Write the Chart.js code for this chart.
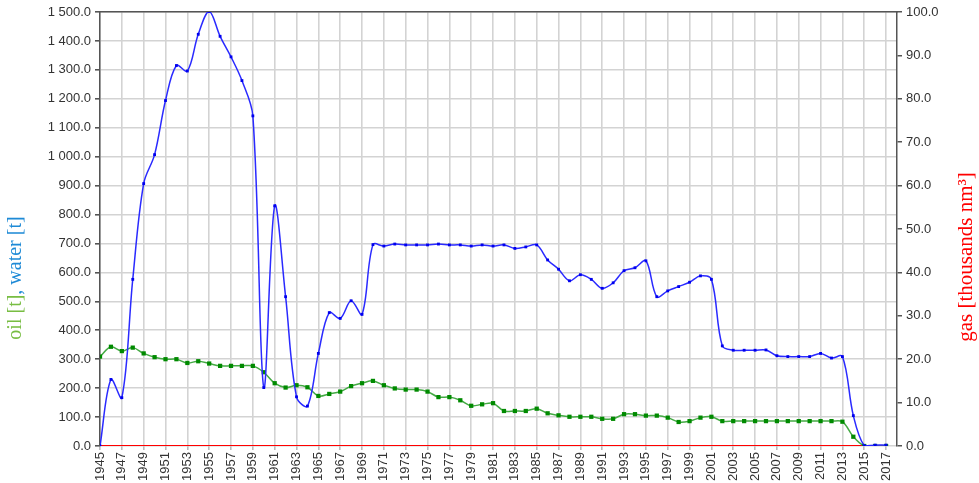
<!DOCTYPE html>
<html>
<head>
<meta charset="utf-8">
<script src="https://cdn.jsdelivr.net/npm/chart.js@4.4.0/dist/chart.umd.min.js"></script>
<style>
  html, body { margin: 0; padding: 0; background: #fff; }
  #wrap { width: 979px; height: 483px; position: relative; }
</style>
</head>
<body>
<div id="wrap"><canvas id="chart" width="979" height="483"></canvas></div>
<script>
// years 1945..2017
const years = [
  1945, 1946, 1947, 1948, 1949, 1950, 1951, 1952, 1953, 1954,
  1955, 1956, 1957, 1958, 1959, 1960, 1961, 1962, 1963, 1964,
  1965, 1966, 1967, 1968, 1969, 1970, 1971, 1972, 1973, 1974,
  1975, 1976, 1977, 1978, 1979, 1980, 1981, 1982, 1983, 1984,
  1985, 1986, 1987, 1988, 1989, 1990, 1991, 1992, 1993, 1994,
  1995, 1996, 1997, 1998, 1999, 2000, 2001, 2002, 2003, 2004,
  2005, 2006, 2007, 2008, 2009, 2010, 2011, 2012, 2013, 2014,
  2015, 2016, 2017
];

// water [t]
const water = [
  0, 230, 167, 576, 907, 1007, 1194, 1315, 1296, 1423,
  1502, 1416, 1345, 1263, 1141, 202, 830, 516, 170, 138,
  320, 461, 441, 502, 455, 696, 691, 698, 695, 695,
  695, 698, 695, 695, 691, 695, 691, 695, 683, 688,
  695, 643, 611, 571, 592, 576, 545, 564, 606, 616,
  640, 516, 536, 551, 566, 588, 576, 346, 331, 331,
  331, 332, 312, 309, 309, 309, 320, 304, 309, 105,
  1, 3, 3
];

// oil [t]
const oil = [
  309, 343, 328, 340, 320, 307, 300, 300, 287, 293,
  285, 277, 277, 277, 277, 255, 217, 202, 210, 203,
  173, 180, 188, 207, 217, 225, 210, 199, 195, 195,
  188, 169, 169, 158, 139, 144, 148, 121, 121, 121,
  129, 113, 106, 101, 101, 101, 94, 94, 110, 110,
  105, 105, 98, 83, 86, 98, 101, 86, 86, 86,
  86, 86, 86, 86, 86, 86, 86, 86, 84, 32,
  0, 0, 0
];

// gas [thousands nm3]
const gas = years.map(() => 0);

const leftTicks = [0, 100, 200, 300, 400, 500, 600, 700, 800, 900, 1000, 1100, 1200, 1300, 1400, 1500];
const rightTicks = [0, 10, 20, 30, 40, 50, 60, 70, 80, 90, 100];
const yearTicks = years.filter((y) => y % 2 === 1);

const toPoints = (vals) => vals.map((v, i) => ({ x: years[i], y: v }));

const fmt = (v) => {
  const s = v.toFixed(1);
  const [a, b] = s.split(".");
  return a.replace(/\B(?=(\d{3})+(?!\d))/g, " ") + "." + b;
};

const tickFont = { family: "'Liberation Sans', Arial, sans-serif", size: 13 };

// axis titles, the left one has two colours
const titles = {
  id: "titles",
  afterDraw(chart) {
    const ctx = chart.ctx;
    ctx.save();
    ctx.font = "20px 'Liberation Serif', 'Times New Roman', serif";
    ctx.textBaseline = "middle";
    const parts = [["oil [t]", "#78bd43"], [", ", "#1e8ad6"], ["water [t]", "#1e8ad6"]];
    let total = 0;
    parts.forEach((p) => (total += ctx.measureText(p[0]).width));
    ctx.translate(16, 278);
    ctx.rotate(-Math.PI / 2);
    let x = -total / 2;
    parts.forEach((p) => {
      ctx.fillStyle = p[1];
      ctx.fillText(p[0], x, 0);
      x += ctx.measureText(p[0]).width;
    });
    ctx.restore();

    ctx.save();
    ctx.font = "21px 'Liberation Serif', 'Times New Roman', serif";
    ctx.fillStyle = "#ff0000";
    ctx.textAlign = "center";
    ctx.textBaseline = "middle";
    ctx.translate(966, 257);
    ctx.rotate(-Math.PI / 2);
    ctx.fillText("gas [thousands nm³]", 0, 0);
    ctx.restore();
  },
};

new Chart(document.getElementById("chart"), {
  type: "line",
  data: {
    datasets: [
      {
        label: "water",
        data: toPoints(water),
        yAxisID: "y",
        borderColor: "#2a2aff",
        backgroundColor: "#0000ee",
        borderWidth: 1.5,
        pointStyle: "rect",
        pointRadius: 2,
        pointBorderWidth: 0,
        tension: 0.35,
        order: 1,
      },
      {
        label: "oil",
        data: toPoints(oil),
        yAxisID: "y",
        borderColor: "#44aa44",
        backgroundColor: "#008a00",
        borderWidth: 1.5,
        pointStyle: "rect",
        pointRadius: 3,
        pointBorderWidth: 0,
        tension: 0.35,
        order: 2,
      },
      {
        label: "gas",
        data: toPoints(gas),
        yAxisID: "y2",
        borderColor: "#ff0000",
        backgroundColor: "#ff0000",
        borderWidth: 2,
        pointRadius: 0,
        tension: 0,
        order: 3,
      },
    ],
  },
  options: {
    responsive: false,
    animation: false,
    layout: { padding: { top: 12, left: 0, right: 0, bottom: 0 } },
    plugins: { legend: { display: false }, tooltip: { enabled: false } },
    scales: {
      x: {
        type: "linear",
        min: 1945,
        max: 2018,
        afterBuildTicks: (scale) => {
          scale.ticks = yearTicks.map((v) => ({ value: v }));
        },
        afterFit: (scale) => {
          scale.height = 37;
        },
        ticks: {
          autoSkip: false,
          maxRotation: 90,
          minRotation: 90,
          padding: 2,
          color: "#333",
          font: tickFont,
          callback: (v) => String(v),
        },
        grid: { color: "#d3d3d3", lineWidth: 1.6, tickLength: 4, tickColor: "#bbb" },
        border: { display: false },
      },
      xTop: {
        type: "linear",
        position: "top",
        min: 1945,
        max: 2018,
        afterFit: (scale) => {
          scale.height = 0;
        },
        ticks: { display: false },
        grid: { drawOnChartArea: false, drawTicks: false },
        border: { color: "#555", width: 1.5 },
      },
      y: {
        position: "left",
        min: 0,
        max: 1500,
        afterBuildTicks: (scale) => {
          scale.ticks = leftTicks.map((v) => ({ value: v }));
        },
        afterFit: (scale) => {
          scale.width = 100;
        },
        ticks: { color: "#333", font: tickFont, padding: 4, callback: (v) => fmt(v) },
        grid: { color: "#d3d3d3", lineWidth: 1.6, tickLength: 5, tickColor: "#555" },
        border: { color: "#555", width: 1.5 },
      },
      y2: {
        position: "right",
        min: 0,
        max: 100,
        afterBuildTicks: (scale) => {
          scale.ticks = rightTicks.map((v) => ({ value: v }));
        },
        afterFit: (scale) => {
          scale.width = 82;
        },
        ticks: { color: "#333", font: tickFont, padding: 4, callback: (v) => fmt(v) },
        grid: { drawOnChartArea: false, tickLength: 5, color: "#555", lineWidth: 1.5 },
        border: { color: "#555", width: 1.5 },
      },
    },
  },
  plugins: [titles],
});
</script>
</body>
</html>
